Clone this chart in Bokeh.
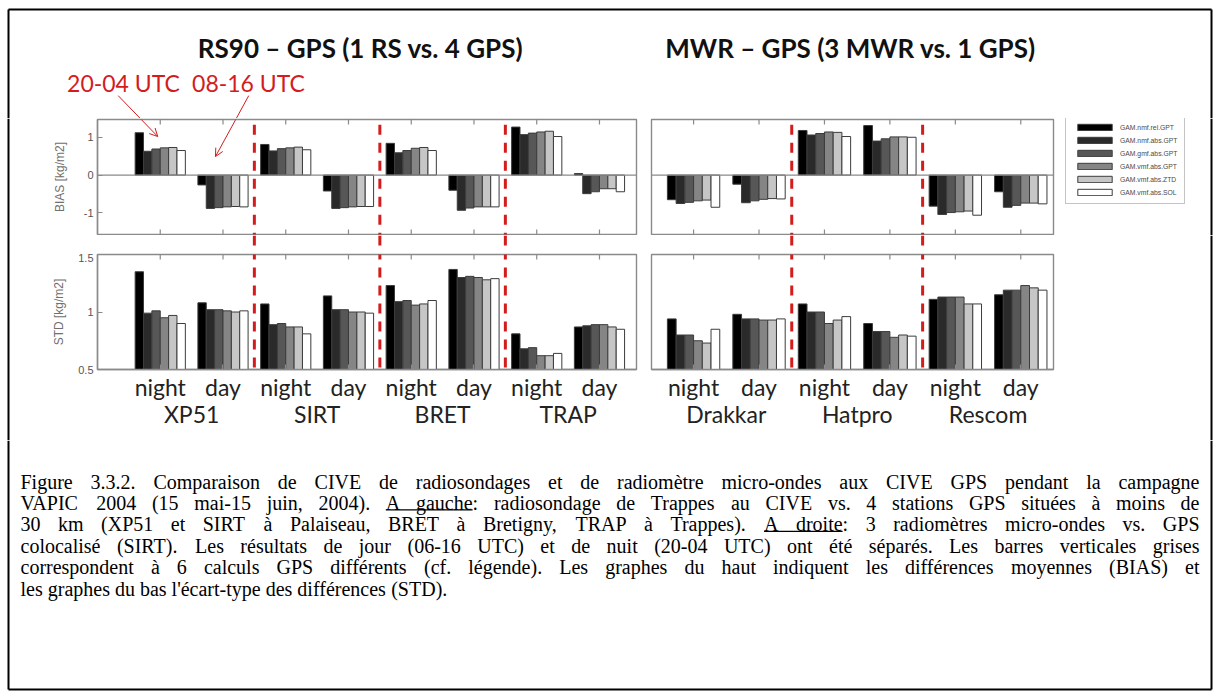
from bokeh.plotting import figure
from bokeh.layouts import column, row
from bokeh.models import (Range1d, FixedTicker, LinearAxis, Span, Arrow, OpenHead,
                          Legend, LegendItem, ColumnDataSource)
from bokeh.core.properties import value
from bokeh.embed import file_html
from bokeh.resources import INLINE

# ---------------- data ----------------
series_names = ["GAM.nmf.rel.GPT", "GAM.nmf.abs.GPT", "GAM.gmf.abs.GPT",
                "GAM.vmf.abs.GPT", "GAM.vmf.abs.ZTD", "GAM.vmf.abs.SOL"]
series_colors = ["#000000", "#2a2a2a", "#575757", "#858585", "#c6c6c6", "#ffffff"]
periods = ["night", "day"]
left_stations = ["XP51", "SIRT", "BRET", "TRAP"]
right_stations = ["Drakkar", "Hatpro", "Rescom"]

# one row per (station, period) group, six values (one per GPS solution)
bias_left = [
    [1.12, 0.63, 0.69, 0.72, 0.73, 0.65],      # XP51 night
    [-0.26, -0.88, -0.86, -0.84, -0.83, -0.84],  # XP51 day
    [0.81, 0.64, 0.70, 0.72, 0.74, 0.67],      # SIRT night
    [-0.42, -0.88, -0.86, -0.84, -0.83, -0.83],  # SIRT day
    [0.84, 0.59, 0.65, 0.71, 0.73, 0.65],      # BRET night
    [-0.40, -0.93, -0.87, -0.84, -0.84, -0.84],  # BRET day
    [1.27, 1.07, 1.11, 1.14, 1.16, 1.02],      # TRAP night
    [0.04, -0.49, -0.44, -0.36, -0.36, -0.44],   # TRAP day
]
std_left = [
    [1.35, 0.99, 1.01, 0.95, 0.97, 0.90],
    [1.08, 1.02, 1.02, 1.01, 1.00, 1.01],
    [1.07, 0.89, 0.90, 0.87, 0.87, 0.81],
    [1.14, 1.02, 1.02, 1.00, 1.00, 0.99],
    [1.23, 1.09, 1.10, 1.06, 1.07, 1.10],
    [1.37, 1.30, 1.31, 1.30, 1.28, 1.29],
    [0.81, 0.68, 0.69, 0.62, 0.62, 0.64],
    [0.87, 0.88, 0.89, 0.89, 0.87, 0.85],
]
bias_right = [
    [-0.65, -0.75, -0.72, -0.68, -0.66, -0.85],  # Drakkar night
    [-0.24, -0.73, -0.68, -0.64, -0.62, -0.63],  # Drakkar day
    [1.18, 1.06, 1.10, 1.14, 1.13, 1.02],      # Hatpro night
    [1.31, 0.90, 0.96, 1.01, 1.01, 1.00],      # Hatpro day
    [-0.82, -1.04, -0.99, -0.97, -0.95, -1.06],  # Rescom night
    [-0.44, -0.85, -0.80, -0.74, -0.74, -0.76],  # Rescom day
]
std_right = [
    [0.94, 0.80, 0.80, 0.75, 0.73, 0.85],
    [0.98, 0.94, 0.94, 0.93, 0.93, 0.94],
    [1.07, 1.00, 1.00, 0.90, 0.93, 0.96],
    [0.90, 0.83, 0.83, 0.78, 0.80, 0.79],
    [1.11, 1.13, 1.13, 1.13, 1.07, 1.07],
    [1.15, 1.19, 1.19, 1.23, 1.21, 1.19],
]
bias_ticks = [-1, 0, 1]
std_ticks = [0.5, 1, 1.5]

title_left = "RS90 – GPS (1 RS vs. 4 GPS)"
title_right = "MWR – GPS (3 MWR vs. 1 GPS)"
note_night = "20-04 UTC"
note_day = "08-16 UTC"
caption_lines = [
    "Figure 3.3.2. Comparaison de CIVE de radiosondages et de radiomètre micro-ondes aux CIVE GPS pendant la campagne",
    "VAPIC 2004 (15 mai-15 juin, 2004). A gauche: radiosondage de Trappes au CIVE vs. 4 stations GPS situées à moins de",
    "30 km (XP51 et SIRT à Palaiseau, BRET à Bretigny, TRAP à Trappes). A droite: 3 radiomètres micro-ondes vs. GPS",
    "colocalisé (SIRT). Les résultats de jour (06-16 UTC) et de nuit (20-04 UTC) ont été séparés. Les barres verticales grises",
    "correspondent à 6 calculs GPS différents (cf. légende). Les graphes du haut indiquent les différences moyennes (BIAS) et",
    "les graphes du bas l'écart-type des différences (STD).",
]
underlined = [(1, "A", "gauche"), (2, "A", "droite")]

# ---------------- style / layout ----------------
AX = "#8a8a8a"
RED = "#d41c1c"
EDGE = "#3c3c3c"
UI_FONT = "Lato"
NBAR = len(series_names)
GROUP_W = 0.8
BW = GROUP_W / NBAR

BIAS_RANGE = (-1.57, 1.47)
STD_RANGE = (0.5, 1.5)
LEFT_X = (0.0, 8.59)
RIGHT_X = (0.357, 6.5)

PAGE_W, PAGE_H = 1219, 697
HDR_H = 118
STRIP_W = 20
W_LEFT, W_RIGHT = 624, 414
W_LEG = PAGE_W - STRIP_W - W_LEFT - W_RIGHT
LB_L, LB_R = 77, 8        # left panels borders (frame x 97..636)
RB_L, RB_R = 7, 5         # right panels borders (frame x 651..1053)
FRAME_H = 115
H_BIAS = FRAME_H + 2
H_GAP = 18
H_STD = FRAME_H + 1 + 71
H_CAP = PAGE_H - HDR_H - H_BIAS - H_GAP - H_STD
TICK_PX = 5
BORDER = dict(left=8, top=9, right=1211, bottom=689)

FRAME_X0_L = STRIP_W + LB_L
FRAME_W_L = W_LEFT - LB_L - LB_R
FRAME_Y0 = HDR_H + 1


def base_fig(w, h, xr, yr, bl=0, br=0, bt=0, bb=0, outline=True):
    p = figure(width=w, height=h, x_range=Range1d(*xr), y_range=Range1d(*yr),
               output_backend="svg", toolbar_location=None,
               x_axis_type=None, y_axis_type=None,
               min_border_left=bl, min_border_right=br,
               min_border_top=bt, min_border_bottom=bb)
    p.outline_line_color = AX if outline else None
    p.outline_line_width = 1.4
    p.background_fill_color = "white"
    p.border_fill_color = "white"
    return p


def inner_ticks(p, ticks, yr, top=True, bottom=True):
    L = TICK_PX * (yr[1] - yr[0]) / FRAME_H
    x, y0, y1 = [], [], []
    for t in ticks:
        if top:
            x.append(t); y0.append(yr[1]); y1.append(yr[1] - L)
        if bottom:
            x.append(t); y0.append(yr[0]); y1.append(yr[0] + L)
    p.segment(x0=x, y0=y0, x1=x, y1=y1, line_color=AX, line_width=1.2)


def label_axis(p, ticks, overrides, standoff, draw_line=True):
    ax = LinearAxis(ticker=FixedTicker(ticks=ticks))
    ax.axis_line_color = AX if draw_line else None
    ax.axis_line_width = 1.4
    ax.major_tick_line_color = AX if draw_line else None
    ax.major_tick_line_width = 1.2
    ax.major_tick_in = TICK_PX
    ax.major_tick_out = 0
    ax.minor_tick_line_color = None
    ax.major_label_overrides = overrides
    ax.major_label_text_font = UI_FONT
    ax.major_label_text_font_size = "23px"
    ax.major_label_text_color = "#222222"
    ax.major_label_standoff = standoff
    p.add_layout(ax, "below")


def y_axis(p, ticks, overrides, label, label_standoff):
    ax = LinearAxis(ticker=FixedTicker(ticks=ticks))
    ax.axis_line_color = AX
    ax.axis_line_width = 1.4
    ax.major_tick_line_color = AX
    ax.major_tick_in = TICK_PX
    ax.major_tick_out = 0
    ax.minor_tick_line_color = None
    ax.major_label_overrides = overrides
    ax.major_label_text_font = "Liberation Sans"
    ax.major_label_text_font_size = "11px"
    ax.major_label_text_color = "#555555"
    ax.major_label_standoff = 4
    ax.axis_label = label
    ax.axis_label_text_font = "Liberation Sans"
    ax.axis_label_text_font_size = "12px"
    ax.axis_label_text_font_style = "normal"
    ax.axis_label_text_color = "#707070"
    ax.axis_label_standoff = label_standoff
    p.add_layout(ax, "left")


def add_bars(p, groups):
    n = len(groups)
    for k in range(NBAR):
        xs = [g + 1 + (k - (NBAR - 1) / 2) * BW for g in range(n)]
        tops = [groups[g][k] for g in range(n)]
        src = ColumnDataSource(dict(x=xs, top=tops))
        p.vbar(x="x", top="top", bottom=0, width=BW, source=src,
               fill_color=series_colors[k], line_color=EDGE, line_width=1)


def add_separators(p, n_stations, y_start, y_end):
    for s in range(1, n_stations):
        xs = 2 * s + 0.5
        p.add_layout(Arrow(x_start=xs, y_start=y_start, x_end=xs, y_end=y_end,
                           start=None, end=None, line_color=RED, line_width=3,
                           line_dash="10 8"))


def add_gap_separators(p, n_stations):
    for s in range(1, n_stations):
        p.add_layout(Span(location=2 * s + 0.5, dimension="height", line_color=RED,
                          line_width=3, line_dash="10 8"))


def vline(p, x, y0, y1):
    p.segment(x0=[x], y0=[y0], x1=[x], y1=[y1], line_color="#000000", line_width=2)


def hline(p, y, x0, x1):
    p.segment(x0=[x0], y0=[y], x1=[x1], y1=[y], line_color="#000000", line_width=2)


nL = 2 * len(left_stations)
nR = 2 * len(right_stations)
group_ticks_L = list(range(1, nL + 1))
group_ticks_R = list(range(1, nR + 1))
station_ticks_L = [2 * i + 1.5 for i in range(len(left_stations))]
station_ticks_R = [2 * i + 1.5 for i in range(len(right_stations))]

# arrows from the red notes to the bars (in left BIAS data units)
arrow_night = ((0.33, 2.10), (0.96, 1.02))
arrow_day = ((2.41, 2.10), (1.88, 0.49))


def bias_left_to_page(x, y):
    px = FRAME_X0_L + (x - LEFT_X[0]) * FRAME_W_L / (LEFT_X[1] - LEFT_X[0])
    py = FRAME_Y0 + (BIAS_RANGE[1] - y) * FRAME_H / (BIAS_RANGE[1] - BIAS_RANGE[0])
    return px, py


# ---------------- header (page pixel coordinates) ----------------
hdr = base_fig(PAGE_W, HDR_H, (0, PAGE_W), (HDR_H, 0), outline=False)
hdr.text(x=[360, 850], y=[47, 47], text=[title_left, title_right],
         text_align="center", text_baseline="middle", text_font=value(UI_FONT),
         text_font_style="bold", text_font_size="26px", text_color="#111111")
hdr.text(x=[123, 248], y=[82, 82], text=[note_night, note_day],
         text_align="center", text_baseline="middle", text_font=value(UI_FONT),
         text_font_size="23px", text_color=RED)
for (s, e) in (arrow_night, arrow_day):
    sx, sy = bias_left_to_page(*s)
    ex, ey = bias_left_to_page(*e)
    hdr.add_layout(Arrow(x_start=sx, y_start=sy, x_end=ex, y_end=ey, start=None, end=None,
                         line_color=RED, line_width=1))
hline(hdr, BORDER["top"], BORDER["left"], BORDER["right"])
vline(hdr, BORDER["left"], BORDER["top"], HDR_H)
vline(hdr, BORDER["right"], BORDER["top"], HDR_H)

# ---------------- left border strip ----------------
strip_h = H_BIAS + H_GAP + H_STD
lstrip = base_fig(STRIP_W, strip_h, (0, STRIP_W), (0, 1), outline=False)
vline(lstrip, BORDER["left"], 0, 1)

# ---------------- left BIAS ----------------
bl = base_fig(W_LEFT, H_BIAS, LEFT_X, BIAS_RANGE, LB_L, LB_R, 1, 1)
y_axis(bl, bias_ticks, {-1: "-1", 0: "0", 1: "1"}, "BIAS [kg/m2]", 14)
bl.add_layout(Span(location=0, dimension="width", line_color=AX, line_width=1.4))
add_bars(bl, bias_left)
inner_ticks(bl, group_ticks_L, BIAS_RANGE)
add_separators(bl, len(left_stations), 1.33, -2.2)
for (s, e) in (arrow_night, arrow_day):
    bl.add_layout(Arrow(x_start=s[0], y_start=s[1], x_end=e[0], y_end=e[1],
                        line_color=RED, line_width=1,
                        end=OpenHead(size=8, line_color=RED, line_width=1)))

gl = base_fig(W_LEFT, H_GAP, LEFT_X, (0, 1), LB_L, LB_R, 0, 0, outline=False)
add_gap_separators(gl, len(left_stations))

# ---------------- left STD ----------------
sl = base_fig(W_LEFT, H_STD, LEFT_X, STD_RANGE, LB_L, LB_R, 1, 71)
y_axis(sl, std_ticks, {0.5: "0.5", 1: "1", 1.5: "1.5"}, "STD [kg/m2]", 9)
label_axis(sl, group_ticks_L, {t: periods[(t - 1) % 2] for t in group_ticks_L}, 3)
label_axis(sl, station_ticks_L, {t: s for t, s in zip(station_ticks_L, left_stations)},
           -4, draw_line=False)
add_bars(sl, std_left)
inner_ticks(sl, group_ticks_L, STD_RANGE, top=True, bottom=False)
add_separators(sl, len(left_stations), 1.7, 0.5)

# ---------------- right BIAS ----------------
br = base_fig(W_RIGHT, H_BIAS, RIGHT_X, BIAS_RANGE, RB_L, RB_R, 1, 1)
br.add_layout(Span(location=0, dimension="width", line_color=AX, line_width=1.4))
add_bars(br, bias_right)
inner_ticks(br, group_ticks_R, BIAS_RANGE)
add_separators(br, len(right_stations), 1.33, -2.2)

gr = base_fig(W_RIGHT, H_GAP, RIGHT_X, (0, 1), RB_L, RB_R, 0, 0, outline=False)
add_gap_separators(gr, len(right_stations))

# ---------------- right STD ----------------
sr = base_fig(W_RIGHT, H_STD, RIGHT_X, STD_RANGE, RB_L, RB_R, 1, 71)
label_axis(sr, group_ticks_R, {t: periods[(t - 1) % 2] for t in group_ticks_R}, 3)
label_axis(sr, station_ticks_R, {t: s for t, s in zip(station_ticks_R, right_stations)},
           -4, draw_line=False)
add_bars(sr, std_right)
inner_ticks(sr, group_ticks_R, STD_RANGE, top=True, bottom=False)
add_separators(sr, len(right_stations), 1.7, 0.5)

# ---------------- legend ----------------
lg = base_fig(W_LEG, H_BIAS, (0, W_LEG), (0, H_BIAS), outline=False)
items = []
for name, col in zip(series_names, series_colors):
    r = lg.vbar(x=[10 * W_LEG], top=[1], width=1, fill_color=col, line_color=EDGE,
                line_width=1)
    items.append(LegendItem(label=name, renderers=[r]))
legend = Legend(items=items, location=(7, 31), orientation="vertical")
legend.border_line_color = AX
legend.border_line_width = 1.4
legend.background_fill_color = "white"
legend.padding = 7
legend.spacing = 5
legend.margin = 0
legend.glyph_width = 43
legend.glyph_height = 8
legend.label_height = 8
legend.label_standoff = 4
legend.label_text_font = "Liberation Sans"
legend.label_text_font_size = "6.8px"
legend.label_text_color = "#4a4a4a"
lg.add_layout(legend)
vline(lg, BORDER["right"] - (PAGE_W - W_LEG), 0, H_BIAS)

rstrip = base_fig(W_LEG, H_GAP + H_STD, (0, W_LEG), (0, 1), outline=False)
vline(rstrip, BORDER["right"] - (PAGE_W - W_LEG), 0, 1)

# ---------------- caption (justified like the original) ----------------
TIMES_W = {' ': 250, "'": 180, '(': 333, ')': 333, ',': 250, '-': 333, '.': 250, ':': 278,
           'A': 722, 'B': 667, 'C': 667, 'D': 722, 'E': 611, 'F': 556, 'G': 722, 'H': 722,
           'I': 333, 'J': 389, 'K': 722, 'L': 611, 'M': 889, 'N': 722, 'O': 722, 'P': 556,
           'Q': 722, 'R': 667, 'S': 556, 'T': 611, 'U': 722, 'V': 722, 'W': 944, 'X': 722,
           'Y': 722, 'Z': 611, 'a': 444, 'b': 500, 'c': 444, 'd': 500, 'e': 444, 'f': 333,
           'g': 500, 'h': 500, 'i': 278, 'j': 278, 'k': 500, 'l': 278, 'm': 778, 'n': 500,
           'o': 500, 'p': 500, 'q': 500, 'r': 333, 's': 389, 't': 278, 'u': 500, 'v': 500,
           'w': 722, 'x': 500, 'y': 500, 'z': 444, 'é': 444, 'è': 444, 'à': 444}
CAP_FS = 20
CAP_X0, CAP_X1 = 20, 1199
CAP_MID0, CAP_LEAD = 41, 21.4
UNDERLINE_DY = 7


def tw(s):
    return sum(TIMES_W.get(c, 500) for c in s) * CAP_FS / 1000.0


cap = base_fig(PAGE_W, H_CAP, (0, PAGE_W), (H_CAP, 0), outline=False)
wx, wy, wt = [], [], []
word_pos = {}
for i, line in enumerate(caption_lines):
    words = line.split(" ")
    mid = CAP_MID0 + CAP_LEAD * i
    if i < len(caption_lines) - 1:
        gap = (CAP_X1 - CAP_X0 - sum(tw(w) for w in words)) / (len(words) - 1)
    else:
        gap = tw(" ")
    x = CAP_X0
    for j, w in enumerate(words):
        wx.append(x); wy.append(mid); wt.append(w)
        word_pos[(i, j)] = x
        x += tw(w) + gap
cap.text(x=wx, y=wy, text=wt, text_baseline="middle", text_align="left",
         text_font=value("Liberation Serif"), text_font_size=f"{CAP_FS}px",
         text_color="#000000")
for (li, first, second) in underlined:
    words = caption_lines[li].split(" ")
    for j in range(len(words) - 1):
        if words[j] == first and words[j + 1].startswith(second):
            x0 = word_pos[(li, j)]
            x1 = word_pos[(li, j + 1)] + tw(second)
            yb = CAP_MID0 + CAP_LEAD * li + UNDERLINE_DY
            cap.segment(x0=[x0], y0=[yb], x1=[x1], y1=[yb], line_color="#000000",
                        line_width=1.2)
vline(cap, BORDER["left"], 0, BORDER["bottom"] - (PAGE_H - H_CAP))
vline(cap, BORDER["right"], 0, BORDER["bottom"] - (PAGE_H - H_CAP))
hline(cap, BORDER["bottom"] - (PAGE_H - H_CAP), BORDER["left"], BORDER["right"])

layout = column(
    hdr,
    row(lstrip, column(bl, gl, sl), column(br, gr, sr), column(lg, rstrip)),
    cap,
)

open("out.html", "w").write(file_html(layout, INLINE))
